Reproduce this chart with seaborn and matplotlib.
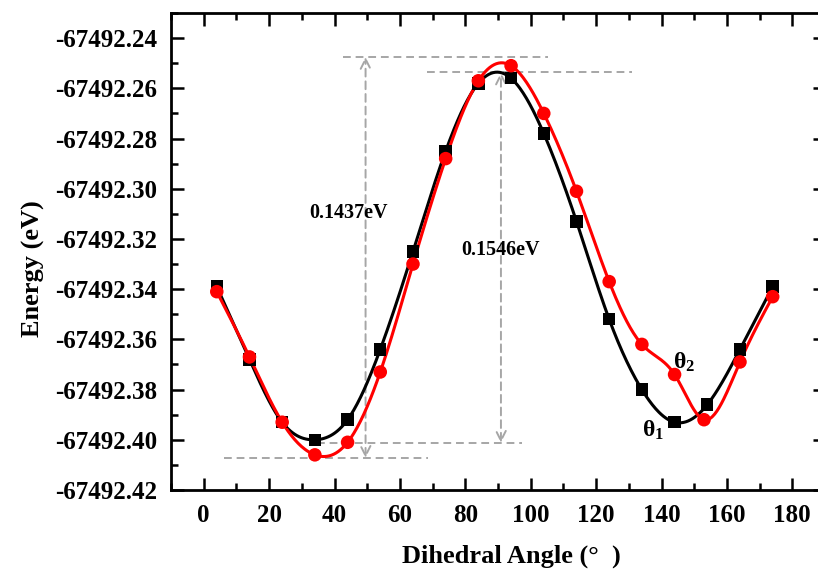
import matplotlib
matplotlib.use("Agg")
import matplotlib.pyplot as plt
import numpy as np
import pandas as pd
import seaborn as sns
from matplotlib.ticker import MultipleLocator, FormatStrFormatter

# data
angle_t1 = [4, 14, 24, 34, 44, 54, 64, 74, 84, 94, 104, 114, 124, 134, 144, 154, 164, 174]
energy_t1 = [-67492.339, -67492.368, -67492.393, -67492.400, -67492.392, -67492.364,
             -67492.325, -67492.285, -67492.258, -67492.256, -67492.278, -67492.313,
             -67492.352, -67492.380, -67492.393, -67492.386, -67492.364, -67492.339]
angle_t2 = [4, 14, 24, 34, 44, 54, 64, 74, 84, 94, 104, 114, 124, 134, 144, 153, 164, 174]
energy_t2 = [-67492.341, -67492.367, -67492.393, -67492.406, -67492.401, -67492.373,
             -67492.330, -67492.288, -67492.257, -67492.251, -67492.270, -67492.301,
             -67492.337, -67492.362, -67492.374, -67492.392, -67492.369, -67492.343]

x_ticks = [0, 20, 40, 60, 80, 100, 120, 140, 160, 180]

# annotation guides: (x0, x1, y)
guides = [(42.7, 105.3, -67492.2475), (68.4, 131.0, -67492.2537),
          (34.8, 97.4, -67492.4012), (6.1, 68.7, -67492.4072)]
arrows = [(49.5, -67492.2475, -67492.4072), (90.9, -67492.2537, -67492.4012)]
gap_labels = [(44.3, -67492.3096, "0.1437eV"), (90.7, -67492.3244, "0.1546eV")]
series_labels = [(137.3, -67492.3962, r"$\theta_1$"), (147.0, -67492.3690, r"$\theta_2$")]


def natural_spline(x, y, n=500):
    x = np.asarray(x, float)
    y = np.asarray(y, float) - y[0]
    h = np.diff(x)
    m = len(x)
    A = np.zeros((m, m))
    b = np.zeros(m)
    A[0, 0] = A[-1, -1] = 1.0
    for i in range(1, m - 1):
        A[i, i - 1] = h[i - 1]
        A[i, i] = 2 * (h[i - 1] + h[i])
        A[i, i + 1] = h[i]
        b[i] = 6 * ((y[i + 1] - y[i]) / h[i] - (y[i] - y[i - 1]) / h[i - 1])
    M = np.linalg.solve(A, b)
    xs = np.linspace(x[0], x[-1], n)
    k = np.clip(np.searchsorted(x, xs) - 1, 0, m - 2)
    t0 = x[k + 1] - xs
    t1 = xs - x[k]
    hk = h[k]
    ys = (M[k] * t0 ** 3 + M[k + 1] * t1 ** 3) / (6 * hk) \
        + (y[k] / hk - M[k] * hk / 6) * t0 + (y[k + 1] / hk - M[k + 1] * hk / 6) * t1
    return xs, ys


sns.set_style("ticks")
plt.rcParams["font.family"] = ["Liberation Serif", "DejaVu Serif"]
plt.rcParams["font.weight"] = "bold"
plt.rcParams["text.color"] = "black"
plt.rcParams["axes.labelcolor"] = "black"
plt.rcParams["xtick.color"] = "black"
plt.rcParams["ytick.color"] = "black"
plt.rcParams["mathtext.fontset"] = "custom"
plt.rcParams["mathtext.rm"] = "Liberation Serif:bold"
plt.rcParams["mathtext.it"] = "Liberation Serif:bold"
plt.rcParams["mathtext.bf"] = "Liberation Serif:bold"

fig = plt.figure(figsize=(8.18, 5.82), dpi=100)
ax = fig.add_axes([171 / 818, 92 / 582, 654 / 818, 477 / 582])

base1 = energy_t1[0]
base2 = energy_t2[0]
xs1, ys1 = natural_spline(angle_t1, energy_t1)
xs2, ys2 = natural_spline(angle_t2, energy_t2)
curves = pd.DataFrame({"angle": np.r_[xs1, xs2],
                       "energy": np.r_[ys1 + base1, ys2 + base2],
                       "series": ["t1"] * len(xs1) + ["t2"] * len(xs2)})
points = pd.DataFrame({"angle": angle_t1 + angle_t2,
                       "energy": energy_t1 + energy_t2,
                       "series": ["t1"] * len(angle_t1) + ["t2"] * len(angle_t2)})
palette = {"t1": "black", "t2": "#ff0000"}

# guides drawn first, below the curves
for x0, x1, yv in guides:
    ax.plot([x0, x1], [yv, yv], color="#a6a6a6", lw=1.4, ls=(0, (4, 2.5)), zorder=1)
for xa, ytop, ybot in arrows:
    ax.annotate("", xy=(xa, ytop), xytext=(xa, ybot),
                arrowprops=dict(arrowstyle="<->,head_length=0.7,head_width=0.35",
                                color="#a6a6a6", lw=1.4, ls=(0, (4, 2.5)),
                                shrinkA=0, shrinkB=0), zorder=1)

sns.lineplot(data=curves, x="angle", y="energy", hue="series", palette=palette,
             sort=False, estimator=None, lw=2.2, legend=False, ax=ax, zorder=3)
sns.scatterplot(data=points[points.series == "t1"], x="angle", y="energy", color="black",
                marker="s", s=80, edgecolor="none", legend=False, ax=ax, zorder=4)
sns.scatterplot(data=points[points.series == "t2"], x="angle", y="energy", color="#ff0000",
                marker="o", s=95, edgecolor="none", legend=False, ax=ax, zorder=5)

for xl, yl, txt in gap_labels:
    ax.text(xl, yl, txt, ha="center", va="center", fontsize=14.5, fontweight="bold")
for xl, yl, txt in series_labels:
    ax.text(xl, yl, txt, fontsize=17, ha="center", va="center")

ax.set_xlim(-10, 190)
ax.set_ylim(-67492.42, -67492.23)
ax.set_xticks(x_ticks)
ax.xaxis.set_minor_locator(MultipleLocator(10))
ax.yaxis.set_major_locator(MultipleLocator(0.02))
ax.yaxis.set_minor_locator(MultipleLocator(0.01))
ax.yaxis.set_major_formatter(FormatStrFormatter("%.2f"))
ax.set_ylim(-67492.42, -67492.23)

ax.tick_params(which="both", direction="in", top=True, right=True, width=1.8, color="black")
ax.tick_params(which="major", length=9, labelsize=18, pad=10)
ax.tick_params(which="minor", length=5)
for s in ax.spines.values():
    s.set_linewidth(2)
    s.set_color("black")

ax.set_xlabel("Dihedral Angle (°  )", fontsize=19, fontweight="bold")
ax.set_ylabel("Energy (eV)", fontsize=19, fontweight="bold")
ax.xaxis.set_label_coords(0.521, -0.115)
ax.yaxis.set_label_coords(-0.193, 0.465)

fig.savefig("out.png", dpi=100)
